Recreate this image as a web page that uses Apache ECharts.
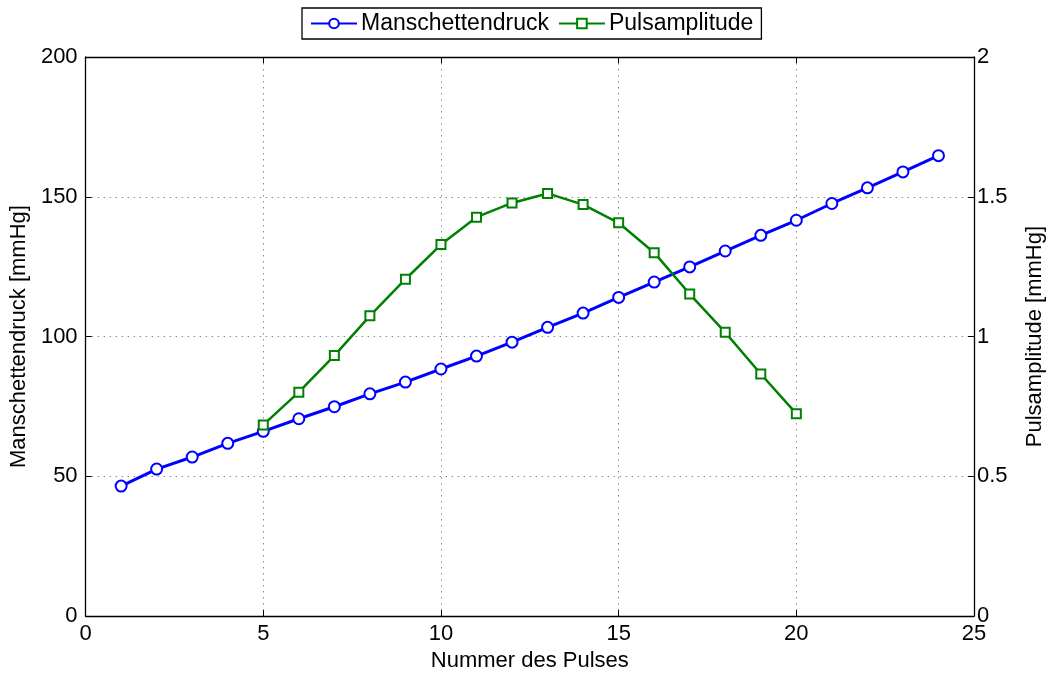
<!DOCTYPE html>
<html>
<head>
<meta charset="utf-8">
<script src="https://cdn.jsdelivr.net/npm/echarts@6/dist/echarts.min.js"></script>
<style>
  html, body { margin: 0; padding: 0; background: #fff; overflow: hidden; }
  #chart { width: 1054px; height: 677px; }
</style>
</head>
<body>
<div id="chart"></div>
<script>
// Pulse number for each measurement
const pulseCuff = [1,2,3,4,5,6,7,8,9,10,11,12,13,14,15,16,17,18,19,20,21,22,23,24];
// Cuff pressure [mmHg]
const cuffPressure = [46.5,52.6,56.9,61.8,66.1,70.6,74.9,79.5,83.7,88.4,93.0,98.0,103.3,108.4,114.0,119.5,124.9,130.6,136.2,141.6,147.6,153.2,158.9,164.7];
// Pulse numbers where an amplitude was detected
const pulseAmp = [5,6,7,8,9,10,11,12,13,14,15,16,17,18,19,20];
// Pulse amplitude [mmHg]
const pulseAmplitude = [0.684,0.801,0.932,1.074,1.205,1.329,1.427,1.478,1.512,1.472,1.407,1.300,1.152,1.015,0.866,0.724];

const leftTicks = [0, 50, 100, 150, 200];
const rightTicks = [0, 0.5, 1, 1.5, 2];
const xTicks = [0, 5, 10, 15, 20, 25];

const FONT = 'Liberation Sans, Arial, Helvetica, sans-serif';
const FS_TICK = 22;
const FS_LABEL = 22;
const FS_LEGEND = 23;

const chart = echarts.init(document.getElementById('chart'), null, { renderer: 'canvas', width: 1054, height: 677 });

const gridLine = { show: true, lineStyle: { color: '#8a8a8a', type: [1.5, 4.5], width: 1 } };
const axisLine = { show: true, onZero: false, lineStyle: { color: '#000', width: 1.3 } };
const tick = { show: true, inside: true, length: 6, lineStyle: { color: '#000' } };

chart.setOption({
  animation: false,
  backgroundColor: '#fff',
  textStyle: { fontFamily: FONT },
  legend: {
    left: 302,
    top: 8,
    padding: [4, 8, 4, 8],
    itemGap: 9,
    itemWidth: 46,
    itemHeight: 12,
    borderColor: '#000',
    borderWidth: 1.3,
    borderRadius: 0,
    textStyle: { fontFamily: FONT, fontSize: FS_LEGEND, color: '#000', padding: [0, 0, 0, -1] },
    data: ['Manschettendruck', 'Pulsamplitude']
  },
  grid: { left: 83, right: 71, top: 57, bottom: 59, containLabel: false },
  xAxis: [
    {
      type: 'value', min: xTicks[0], max: xTicks[xTicks.length - 1], interval: 5,
      name: 'Nummer des Pulses', nameLocation: 'middle', nameGap: 31,
      nameTextStyle: { fontFamily: FONT, fontSize: FS_LABEL, color: '#000' },
      axisLine: axisLine, axisTick: tick,
      axisLabel: { fontFamily: FONT, fontSize: FS_TICK, color: '#000', margin: 7 },
      splitLine: gridLine
    },
    {
      type: 'value', position: 'top', min: xTicks[0], max: xTicks[xTicks.length - 1], interval: 5,
      axisLine: axisLine, axisTick: tick, axisLabel: { show: false }, splitLine: { show: false }
    }
  ],
  yAxis: [
    {
      type: 'value', min: leftTicks[0], max: leftTicks[leftTicks.length - 1], interval: 50,
      name: 'Manschettendruck [mmHg]', nameLocation: 'middle', nameGap: 50, nameRotate: 90,
      nameTextStyle: { fontFamily: FONT, fontSize: FS_LABEL, color: '#000' },
      axisLine: axisLine, axisTick: tick,
      axisLabel: { fontFamily: FONT, fontSize: FS_TICK, color: '#000', margin: 8 },
      splitLine: gridLine
    },
    {
      type: 'value', position: 'right', min: rightTicks[0], max: rightTicks[rightTicks.length - 1], interval: 0.5,
      name: 'Pulsamplitude [mmHg]', nameLocation: 'middle', nameGap: 50, nameRotate: 90,
      nameTextStyle: { fontFamily: FONT, fontSize: FS_LABEL, color: '#000' },
      axisLine: axisLine, axisTick: tick,
      axisLabel: { fontFamily: FONT, fontSize: FS_TICK, color: '#000', margin: 3 },
      splitLine: { show: false }
    }
  ],
  series: [
    {
      name: 'Manschettendruck', type: 'line', xAxisIndex: 0, yAxisIndex: 0,
      data: pulseCuff.map((p, i) => [p, cuffPressure[i]]),
      symbol: 'emptyCircle', symbolSize: 11, showAllSymbol: true,
      lineStyle: { color: '#0000ff', width: 3 },
      itemStyle: { color: '#0000ff', borderColor: '#0000ff', borderWidth: 2.8 },
      z: 3
    },
    {
      name: 'Pulsamplitude', type: 'line', xAxisIndex: 0, yAxisIndex: 1,
      data: pulseAmp.map((p, i) => [p, pulseAmplitude[i]]),
      symbol: 'emptyRect', symbolSize: 9, showAllSymbol: true,
      lineStyle: { color: '#008000', width: 2.5 },
      itemStyle: { color: '#008000', borderColor: '#008000', borderWidth: 3 },
      z: 4
    }
  ]
});
</script>
</body>
</html>
